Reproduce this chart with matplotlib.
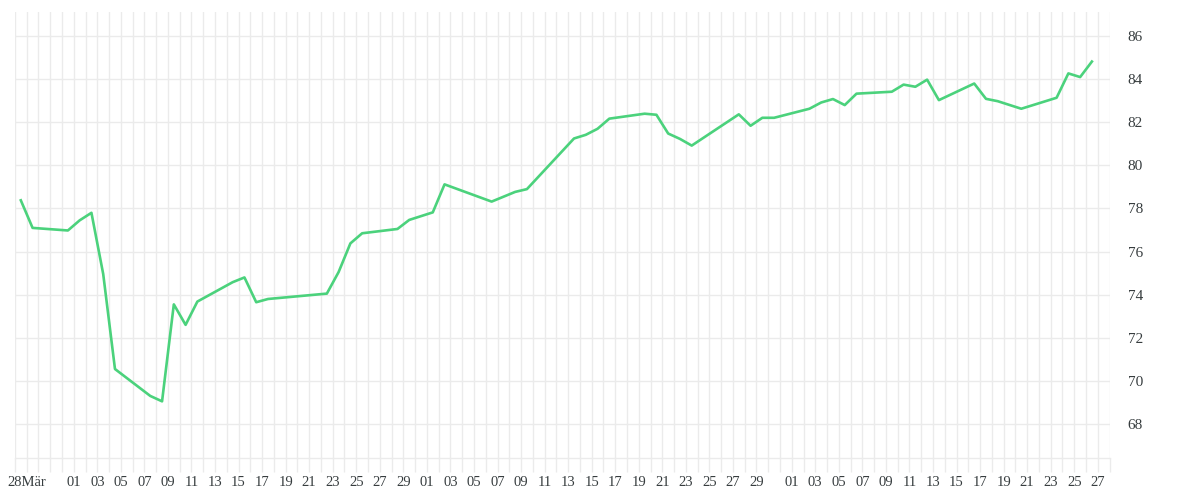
import numpy as np
import pandas as pd
import matplotlib
matplotlib.use("Agg")
import matplotlib.pyplot as plt

"""
data
"""
dates = ["2023-03-27", "2023-03-28", "2023-03-31", "2023-04-01", "2023-04-02",
         "2023-04-03", "2023-04-04", "2023-04-07", "2023-04-08", "2023-04-09",
         "2023-04-10", "2023-04-11", "2023-04-14", "2023-04-15", "2023-04-16",
         "2023-04-17", "2023-04-22", "2023-04-23", "2023-04-24", "2023-04-25",
         "2023-04-28", "2023-04-29", "2023-05-01", "2023-05-02", "2023-05-06",
         "2023-05-08", "2023-05-09", "2023-05-13", "2023-05-14", "2023-05-15",
         "2023-05-16", "2023-05-19", "2023-05-20", "2023-05-21", "2023-05-22",
         "2023-05-23", "2023-05-27", "2023-05-28", "2023-05-29", "2023-05-30",
         "2023-06-02", "2023-06-03", "2023-06-04", "2023-06-05", "2023-06-06",
         "2023-06-09", "2023-06-10", "2023-06-11", "2023-06-12", "2023-06-13",
         "2023-06-16", "2023-06-17", "2023-06-18", "2023-06-20", "2023-06-23",
         "2023-06-24", "2023-06-25", "2023-06-26"]

values = [78.38, 77.1, 76.98, 77.45, 77.8,
          74.96, 70.55, 69.3, 69.05, 73.55,
          72.6, 73.68, 74.58, 74.8, 73.65,
          73.8, 74.05, 75.05, 76.38, 76.85,
          77.05, 77.47, 77.82, 79.12, 78.32,
          78.77, 78.9, 81.25, 81.42, 81.7,
          82.17, 82.4, 82.35, 81.48, 81.23,
          80.92, 82.37, 81.84, 82.21, 82.21,
          82.63, 82.92, 83.08, 82.8, 83.33,
          83.42, 83.75, 83.65, 83.98, 83.03,
          83.8, 83.09, 82.98, 82.63, 83.14,
          84.27, 84.1, 84.82]

start_day = "2023-03-27"
end_day = "2023-06-28"
first_label_day = "2023-03-28"
first_label = "28Mär"
yticks = [68, 70, 72, 74, 76, 78, 80, 82, 84, 86]

"""
plotting
"""
grid_color = "#ebebeb"
text_color = "#373d3f"
plt.rcParams['font.family'] = ['Liberation Serif', 'DejaVu Serif']

t0 = pd.Timestamp(start_day)
days = np.array([(pd.Timestamp(d) - t0).days for d in dates]) + 0.5  # readings sit at midday

fig = plt.figure(figsize=(12, 5), dpi=100)
ax = fig.add_axes([0.01244, 0.084, 0.9122, 0.892])

ax.plot(days, values, color="#4bd27c", lw=1.9, solid_joinstyle="round", zorder=3)

n_days = (pd.Timestamp(end_day) - t0).days
ax.set_xlim(0, n_days)
ax.set_ylim(66.42, 87.12)

# one gridline per day, labels on odd days
all_days = pd.date_range(start_day, end_day)
ticks = [(d - t0).days for d in all_days]
labels = []
for d in all_days:
    if d == pd.Timestamp(first_label_day):
        labels.append(first_label)
    elif d > pd.Timestamp(first_label_day) + pd.Timedelta(days=3) and d.day % 2 == 1 and d.day != 31:
        labels.append(f"{d.day:02d}")
    else:
        labels.append("")
ax.set_xticks(ticks)
ax.set_xticklabels(labels)

ax.set_yticks(yticks)
ax.yaxis.tick_right()

ax.grid(True, color=grid_color, lw=1)
ax.set_axisbelow(True)

ax.tick_params(axis='x', length=10, width=1, color=grid_color, labelsize=10.5,
               labelcolor=text_color, pad=3)
ax.tick_params(axis='y', length=0, labelsize=11, labelcolor=text_color, pad=13)

for side in ['top', 'left', 'right']:
    ax.spines[side].set_visible(False)
ax.spines['bottom'].set_color(grid_color)
ax.spines['bottom'].set_linewidth(1)

fig.savefig("out.png", dpi=100)
